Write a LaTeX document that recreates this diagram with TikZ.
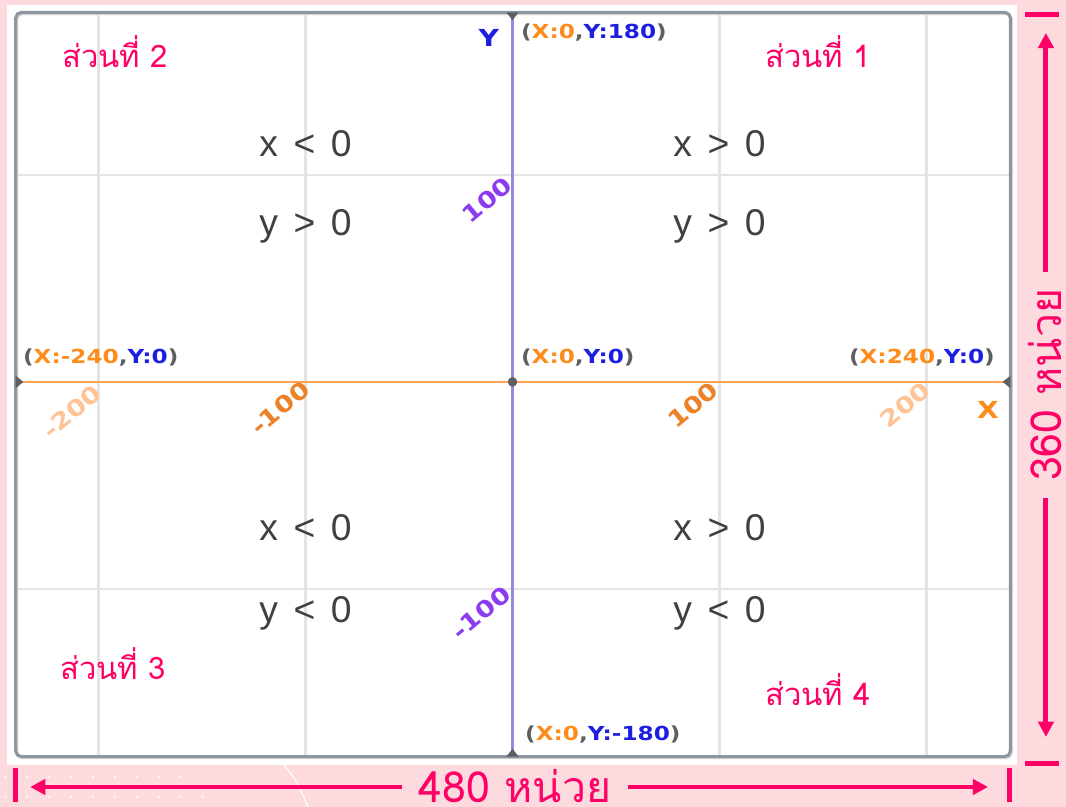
\documentclass[tikz,border=0pt]{standalone}
\usepackage{fontspec}
\setmainfont{Liberation Sans}
\newfontfamily\thaifont[Script=Thai]{Loma}
\newfontfamily\pixfont[FakeStretch=1.2]{DejaVu Sans}
\usetikzlibrary{arrows.meta}
\definecolor{bgpink}{RGB}{252,218,222}
\definecolor{hotpink}{RGB}{255,0,102}
\definecolor{framegray}{RGB}{142,150,163}
\definecolor{gridgray}{RGB}{228,228,228}
\definecolor{xaxis}{RGB}{255,165,80}
\definecolor{yaxis}{RGB}{140,140,225}
\definecolor{xcol}{RGB}{255,140,26}
\definecolor{ycol}{RGB}{30,30,225}
\definecolor{parcol}{RGB}{95,95,95}
\definecolor{txtgray}{RGB}{64,64,64}
\definecolor{ytick}{RGB}{140,60,240}
\definecolor{xtick}{RGB}{235,130,40}
\definecolor{xtickfade}{RGB}{255,195,150}
\tikzset{
  quad/.style={font=\thaifont\fontsize{22.5}{22.5}\selectfont,text=hotpink,anchor=base,inner sep=0pt},
  ineq/.style={font=\fontsize{27}{27}\selectfont,text=txtgray,anchor=base,inner sep=0pt},
  clab/.style={font=\pixfont\bfseries\fontsize{14}{14}\selectfont,inner sep=0pt},
  tlab/.style={font=\pixfont\bfseries\fontsize{16.5}{16.5}\selectfont,inner sep=0pt,rotate=40},
  axlab/.style={font=\pixfont\bfseries\fontsize{17}{17}\selectfont,inner sep=0pt},
  dim/.style={line width=3.6pt,hotpink,-{Triangle[length=11pt,width=11pt]}},
  dimtick/.style={line width=3.6pt,hotpink},
  dimlab/.style={font=\thaifont\fontsize{31}{31}\selectfont,text=hotpink,inner xsep=12pt,inner ysep=0pt,anchor=base},
  gridline/.style={gridgray,line width=1.6pt}
}
\newcommand{\coordlab}[2]{{\color{parcol}(}{\color{xcol}X:#1}{\color{parcol},}{\color{ycol}Y:#2}{\color{parcol})}}
\newcommand{\ineqtxt}[3]{#1\hspace{0.42em}#2\hspace{0.42em}#3}

\begin{document}
\begin{tikzpicture}[x=1.5pt,y=1.5pt]
\useasboundingbox[fill=bgpink] (-247.6,-205.3) rectangle (267.4,184.5);
\foreach \i in {0,...,8} \fill[white,opacity=0.8] (-245.1+10.6*\i,-190.8) circle (0.7);
\foreach \i in {0,...,9} \fill[white,opacity=0.8] (-245.1+10.6*\i,-200.5) circle (0.7);
\draw[white,line width=0.8pt] (-110.4,-185) .. controls (-104,-193) .. (-98.8,-205.3);
% stage
\fill[white] (-244.2,-185) rectangle (243.5,182.1);
\foreach \g in {-200,-100,100,200} \draw[gridline] (\g,-181) -- (\g,178.5);
\foreach \g in {-100,100} \draw[gridline] (-240,\g) -- (240.5,\g);
\draw[gray!35,line width=2pt,rounded corners=4pt] (-239.4,-181.6) rectangle (241.1,177.9);
\draw[framegray,line width=2.2pt,rounded corners=4pt] (-240,-181) rectangle (240.5,178.5);
\draw[xaxis,line width=1.6pt] (-240,0) -- (240.5,0);
\draw[yaxis,line width=1.6pt] (0,-181) -- (0,178.5);
\fill[parcol] (-3,178.5) -- (3,178.5) -- (0,174.8) -- cycle;
\fill[parcol] (-3,-181) -- (3,-181) -- (0,-177.3) -- cycle;
\fill[parcol] (-240,3) -- (-240,-3) -- (-236.3,0) -- cycle;
\fill[parcol] (240.5,3) -- (240.5,-3) -- (236.8,0) -- cycle;
\fill[parcol] (0,0) circle (2.3);
% axis numbers
\node[tlab,text=ytick] (y100) at (-12.3,87.9) {100};
\node[tlab,text=ytick] (ym100) at (-15.2,-111.6) {-100};
\node[tlab,text=xtickfade] (xm200) at (-212.8,-14.5) {-200};
\node[tlab,text=xtick] (xm100) at (-112.3,-12.6) {-100};
\node[tlab,text=xtick] (x100) at (87.2,-11.1) {100};
\node[tlab,text=xtickfade] (x200) at (189.6,-11.1) {200};
\node[axlab,text=ycol] (ylab) at (-11.4,166.2) {Y};
\node[axlab,text=xcol] (xlab) at (229.7,-13.5) {X};
\node[clab,anchor=west] (ctop) at (4,168.6) {\coordlab{0}{180}};
\node[clab,anchor=west] (cleft) at (-236.6,11.6) {\coordlab{-240}{0}};
\node[clab,anchor=west] (corig) at (4,11.6) {\coordlab{0}{0}};
\node[clab,anchor=east] (cright) at (233.1,11.6) {\coordlab{240}{0}};
\node[clab,anchor=west] (cbot) at (6,-170.5) {\coordlab{0}{-180}};
% quadrants
\node[quad] (q2) at (-192,151.7) {ส่วนที่ 2};
\node[quad] (q1) at (147.6,151.7) {ส่วนที่ 1};
\node[quad] (q3) at (-193,-144) {ส่วนที่ 3};
\node[quad] (q4) at (147.6,-156.5) {ส่วนที่ 4};
\node[ineq] (q2x) at (-100,108.7) {\ineqtxt{x}{<}{0}};
\node[ineq] (q2y) at (-100,70.5) {\ineqtxt{y}{>}{0}};
\node[ineq] (q1x) at (100,108.7) {\ineqtxt{x}{>}{0}};
\node[ineq] (q1y) at (100,70.5) {\ineqtxt{y}{>}{0}};
\node[ineq] (q3x) at (-100,-76.8) {\ineqtxt{x}{<}{0}};
\node[ineq] (q3y) at (-100,-116) {\ineqtxt{y}{<}{0}};
\node[ineq] (q4x) at (100,-76.8) {\ineqtxt{x}{>}{0}};
\node[ineq] (q4y) at (100,-116) {\ineqtxt{y}{<}{0}};
% size of the stage
\coordinate (wl) at (-233,-195.7);
\coordinate (wr) at (229.7,-195.7);
\node[dimlab] (wlab) at (1.2,-203.2) {480 หน่วย};
\draw[dim] (wl -| wlab.west) -- (wl);
\draw[dim] (wr -| wlab.east) -- (wr);
\draw[dimtick] (-240.2,-186.5) -- (-240.2,-202.9);
\draw[dimtick] (240.3,-186.5) -- (240.3,-202.9);
\coordinate (ht) at (257.7,168.6);
\coordinate (hb) at (257.7,-171.5);
\node[dimlab,rotate=90] (hlab) at (265.2,-1.4) {360 หน่วย};
\draw[dim] (ht |- hlab.east) -- (ht);
\draw[dim] (hb |- hlab.west) -- (hb);
\draw[dimtick] (247.6,177.3) -- (264,177.3);
\draw[dimtick] (247.6,-184.5) -- (264,-184.5);
\end{tikzpicture}
\end{document}
